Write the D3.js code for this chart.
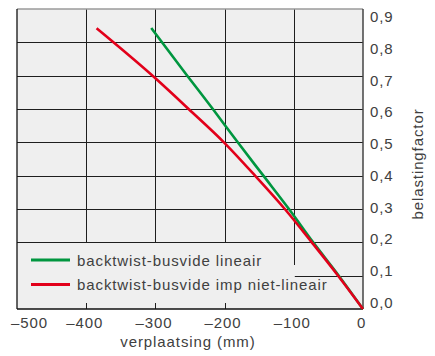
<!DOCTYPE html>
<html>
<head>
<meta charset="utf-8">
<script src="https://cdn.jsdelivr.net/npm/d3@7"></script>
<style>
  body { margin: 0; background: #fff; }
  text { font-family: "Liberation Sans", Arial, sans-serif; font-size: 15px; fill: #404040; letter-spacing: 0.9px; }
</style>
</head>
<body>
<div class="vis"></div>
<script>
// displacement (mm) / load factor
const linX = [-306, -254, -217, -181, -144, -107, -72, -35, 0];
const linY = [0.843, 0.7, 0.6, 0.5, 0.4, 0.3, 0.2, 0.1, 0];
const nlX = [-385, -300, -252, -201, -156, -113, -74, -36, 0];
const nlY = [0.842, 0.692, 0.6, 0.5, 0.4, 0.3, 0.2, 0.1, 0];

const xTicks = [-500, -400, -300, -200, -100, 0];
const yTicks = [0, 0.1, 0.2, 0.3, 0.4, 0.5, 0.6, 0.7, 0.8, 0.9];
const seriesNames = ["backtwist-busvide lineair", "backtwist-busvide imp niet-lineair"];
const seriesColors = ["#00963f", "#e2001a"];

const W = 435, H = 356;
const pL = 17, pR = 363, pT = 9, pB = 309;

const x = d3.scaleLinear().domain([-500, 0]).range([pL, pR]);
const y = d3.scaleLinear().domain([0, 0.9]).range([pB, pT]);
// tick labels sit slightly squeezed against the grid in the original
const yLab = d3.scaleLinear().domain([0, 0.9]).range([302.5, 17]);

const svg = d3.select(".vis").append("svg").attr("width", W).attr("height", H);

svg.append("rect")
    .attr("x", pL).attr("y", pT)
    .attr("width", pR - pL).attr("height", pB - pT)
    .attr("fill", "#efefef");

// legend area hides the lower grid
const legTop = y(0.2), legCut = 265;

const grid = svg.append("g").attr("stroke", "#1e1e1e").attr("stroke-width", 1);
xTicks.filter(v => v > -500 && v < 0).forEach(v => {
    grid.append("line")
        .attr("x1", Math.round(x(v)) + 0.5).attr("x2", Math.round(x(v)) + 0.5)
        .attr("y1", pT).attr("y2", v === -100 ? legCut : legTop);
});
yTicks.filter(v => v > 0 && v < 0.9).forEach(v => {
    grid.append("line")
        .attr("x1", v < 0.2 ? x(-100) + 1 : pL).attr("x2", pR)
        .attr("y1", Math.round(y(v)) + 0.5).attr("y2", Math.round(y(v)) + 0.5);
});

// small inner ticks on the bottom axis
[-400, -300, -200].forEach(v => {
    grid.append("line")
        .attr("x1", Math.round(x(v)) + 0.5).attr("x2", Math.round(x(v)) + 0.5)
        .attr("y1", pB - 6).attr("y2", pB);
});

// frame
svg.append("line").attr("x1", pL).attr("x2", pR).attr("y1", pT).attr("y2", pT)
    .attr("stroke", "#9a9a9a").attr("stroke-width", 1.5);
svg.append("line").attr("x1", pL).attr("x2", pL).attr("y1", pT).attr("y2", pB)
    .attr("stroke", "#111").attr("stroke-width", 1.3);
svg.append("line").attr("x1", pL).attr("x2", pR).attr("y1", pB).attr("y2", pB)
    .attr("stroke", "#111").attr("stroke-width", 1.3);
svg.append("line").attr("x1", pR).attr("x2", pR).attr("y1", pT).attr("y2", pB)
    .attr("stroke", "#444").attr("stroke-width", 1.5);

// curves
const line = d3.line().x(d => x(d[0])).y(d => y(d[1])).curve(d3.curveMonotoneX);
const series = [linX.map((v, i) => [v, linY[i]]), nlX.map((v, i) => [v, nlY[i]])];
series.forEach((s, i) => {
    svg.append("path")
        .datum(s.slice().sort((a, b) => a[0] - b[0]))
        .attr("d", line)
        .attr("fill", "none")
        .attr("stroke", seriesColors[i])
        .attr("stroke-width", 2.6);
});

// legend
const leg = svg.append("g");
seriesNames.forEach((n, i) => {
    const yy = 260 + i * 24.5;
    leg.append("line").attr("x1", 31).attr("x2", 70).attr("y1", yy).attr("y2", yy)
        .attr("stroke", seriesColors[i]).attr("stroke-width", 3);
    leg.append("text").attr("x", 77).attr("y", yy + 5.5).text(n);
});

// x axis labels
const fmtX = v => (v < 0 ? "\u2013" : "") + Math.abs(v);
svg.append("g").selectAll("text").data(xTicks).join("text")
    .attr("x", v => v === -500 ? 11 : x(v) - 1.5)
    .attr("y", 327.5)
    .attr("text-anchor", v => v === -500 ? "start" : "middle")
    .text(fmtX);

svg.append("text").attr("x", 188).attr("y", 347).attr("text-anchor", "middle").text("verplaatsing (mm)");

// y axis labels (right)
const yAxis = d3.axisRight(yLab).tickValues(yTicks).tickSize(0).tickPadding(7)
    .tickFormat(v => d3.format(".1f")(v).replace(".", ","));
const ya = svg.append("g").attr("transform", `translate(${pR},0)`).call(yAxis);
ya.select(".domain").remove();
ya.selectAll("text").attr("font-family", null).attr("font-size", null).attr("fill", null);

svg.append("text")
    .attr("transform", "translate(423,164) rotate(-90)")
    .attr("text-anchor", "middle")
    .text("belastingfactor");
</script>
</body>
</html>
